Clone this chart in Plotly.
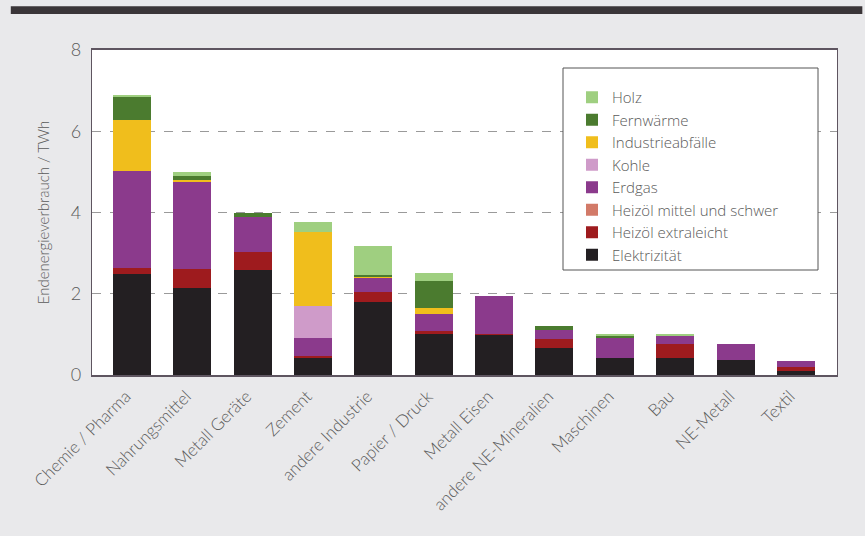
import plotly.graph_objects as go

categories = ["Chemie / Pharma", "Nahrungsmittel", "Metall Geräte", "Zement",
              "andere Industrie", "Papier / Druck", "Metall Eisen",
              "andere NE-Mineralien", "Maschinen", "Bau", "NE-Metall", "Textil"]

elektrizitaet = [2.49, 2.13, 2.58, 0.42, 1.79, 1.02, 1.00, 0.67, 0.43, 0.42, 0.36, 0.11]
heizoel_extra = [0.15, 0.49, 0.44, 0.04, 0.25, 0.07, 0.02, 0.22, 0.00, 0.35, 0.00, 0.09]
heizoel_schwer = [0.00, 0.00, 0.00, 0.00, 0.00, 0.00, 0.00, 0.00, 0.00, 0.00, 0.00, 0.00]
erdgas = [2.39, 2.12, 0.86, 0.45, 0.35, 0.41, 0.92, 0.23, 0.50, 0.19, 0.40, 0.15]
kohle = [0.00, 0.00, 0.00, 0.80, 0.00, 0.00, 0.00, 0.00, 0.00, 0.00, 0.00, 0.00]
industrieabfaelle = [1.24, 0.07, 0.00, 1.81, 0.03, 0.15, 0.00, 0.00, 0.00, 0.00, 0.00, 0.00]
fernwaerme = [0.59, 0.08, 0.10, 0.00, 0.03, 0.67, 0.00, 0.08, 0.04, 0.02, 0.00, 0.00]
holz = [0.03, 0.10, 0.00, 0.25, 0.73, 0.18, 0.00, 0.00, 0.03, 0.02, 0.00, 0.00]

series = [
    ("Elektrizität", elektrizitaet, "#231f22"),
    ("Heizöl extraleicht", heizoel_extra, "#9e1b1e"),
    ("Heizöl mittel und schwer", heizoel_schwer, "#d27a68"),
    ("Erdgas", erdgas, "#8b3a8c"),
    ("Kohle", kohle, "#cf9bc9"),
    ("Industrieabfälle", industrieabfaelle, "#f0be1c"),
    ("Fernwärme", fernwaerme, "#4b7b2f"),
    ("Holz", holz, "#9fcf80"),
]

yticks = [0, 2, 4, 6, 8]

FONT = "Lato"
TXT = "#5a5a5a"

fig = go.Figure()
for name, vals, col in series:
    fig.add_trace(go.Bar(x=categories, y=vals, name=name,
                         marker=dict(color=col, line=dict(width=0)),
                         width=0.63))

# plot area: x 92..837, y 50..375 (px)
def px_x(p):
    return (p - 92) / 745.0

def px_y(p):
    return (375 - p) / 325.0

fig.update_layout(
    width=865, height=536,
    barmode="stack",
    paper_bgcolor="#e9e9eb",
    plot_bgcolor="#ffffff",
    margin=dict(l=92, r=28, t=50, b=161, pad=0),
    font=dict(family=FONT, color=TXT, size=15, weight=300),
    showlegend=True,
    legend=dict(
        traceorder="reversed",
        x=px_x(572), y=px_y(81), xanchor="left", yanchor="top",
        bgcolor="rgba(0,0,0,0)", borderwidth=0,
        font=dict(family="Open Sans", size=15, color=TXT, weight=300),
        itemwidth=30, tracegroupgap=0,
    ),
    xaxis=dict(
        range=[-0.66, 11.68],
        tickangle=-45,
        tickfont=dict(family=FONT, size=17, color=TXT, weight=300),
        ticklabelshift=-6, ticklabelstandoff=3,
        showline=True, linecolor="#5e5560", linewidth=1.5, mirror=True,
        showgrid=False, ticks="",
    ),
    yaxis=dict(
        range=[0, 8],
        tickvals=yticks,
        ticktext=[str(v) for v in yticks],
        tickfont=dict(family=FONT, size=18, color=TXT, weight=300),
        ticklabelstandoff=6,
        title=dict(text="Endenergieverbrauch / TWh",
                   font=dict(family=FONT, size=15, color=TXT, weight=300), standoff=17),
        showline=True, linecolor="#5e5560", linewidth=1.2, mirror=True,
        showgrid=True, gridcolor="#9a9a9a", griddash="dash", gridwidth=1,
        ticks="", zeroline=False,
    ),
    shapes=[
        dict(type="rect", xref="paper", yref="paper",
             x0=-0.109, x1=1.034, y0=1.111, y1=1.135,
             fillcolor="#3a3538", line=dict(width=0), layer="above"),
        dict(type="rect", xref="paper", yref="paper",
             x0=px_x(563), x1=px_x(818), y0=px_y(270), y1=px_y(68),
             fillcolor="#ffffff", line=dict(color="#555555", width=1), layer="above"),
    ],
)

fig.write_html("out.html")
